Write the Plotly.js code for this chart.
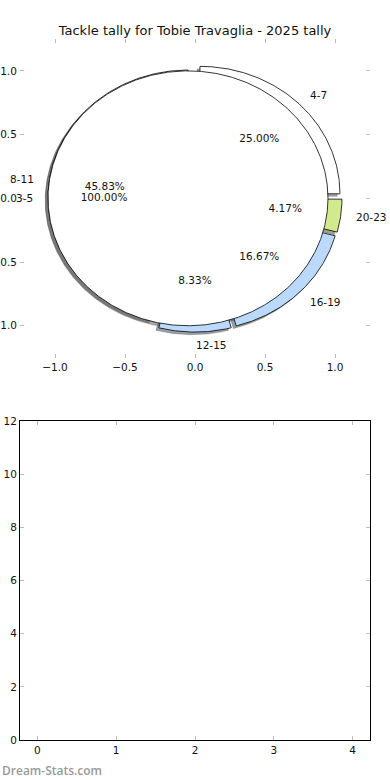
<!DOCTYPE html>
<html><head><meta charset="utf-8">
<script src="https://cdn.plot.ly/plotly-3.0.1.min.js"></script>
<style>html,body{margin:0;padding:0;background:#fff}#chart{width:390px;height:780px}</style>
</head><body><div id="chart"></div>
<script>
// ---- data ----
const sliceLabels = ['4-7', '8-11', '12-15', '16-19', '20-23'];
const sliceValues = [6, 11, 2, 4, 1];
const overlayLabels = ['3-5'];
const overlayValues = [1];
const pieTicks = [-1, -0.5, 0, 0.5, 1];
const bottomXTicks = [0, 1, 2, 3, 4];
const bottomYTicks = [0, 2, 4, 6, 8, 10, 12];
const titleText = 'Tackle tally for Tobie Travaglia - 2025 tally';
const watermark = 'Dream-Stats.com';

// ---- styles ----
const sliceColors = ['#ffffff', '#ffffff', '#bbd9fd', '#bbd9fd', '#d3e98f'];
const overlayColors = ['#ffffff'];
const EXPLODE = 0.05, SHADOW_DX = -0.02, SHADOW_DY = -0.02;
const LABEL_DIST = 1.1, PCT_DIST = 0.6, START_ANGLE = 0;
const FONT = 'DejaVu Sans, Liberation Sans, sans-serif';

function darken(hex) {
  const r = parseInt(hex.slice(1, 3), 16), g = parseInt(hex.slice(3, 5), 16), b = parseInt(hex.slice(5, 7), 16);
  return 'rgba(' + Math.round(r * 0.3) + ',' + Math.round(g * 0.3) + ',' + Math.round(b * 0.3) + ',0.5)';
}

function wedges(values, labels, colors) {
  const total = values.reduce((a, b) => a + b, 0);
  let cum = 0;
  return values.map((v, i) => {
    const frac = v / total;
    const t1 = START_ANGLE + cum * 360, t2 = START_ANGLE + (cum + frac) * 360;
    cum += frac;
    const mid = (t1 + t2) / 2 * Math.PI / 180;
    const cx = EXPLODE * Math.cos(mid), cy = EXPLODE * Math.sin(mid);
    const xs = [], ys = [];
    const full = frac >= 0.9999;
    if (!full) { xs.push(cx); ys.push(cy); }
    const n = Math.max(4, Math.ceil((t2 - t1) / 0.5));
    for (let k = 0; k <= n; k++) {
      const a = (t1 + (t2 - t1) * k / n) * Math.PI / 180;
      xs.push(cx + Math.cos(a)); ys.push(cy + Math.sin(a));
    }
    if (!full) { xs.push(cx); ys.push(cy); }
    return {
      xs, ys, color: colors[i], label: labels[i],
      pct: (frac * 100).toFixed(2) + '%',
      lx: cx + LABEL_DIST * Math.cos(mid), ly: cy + LABEL_DIST * Math.sin(mid),
      px: cx + PCT_DIST * Math.cos(mid), py: cy + PCT_DIST * Math.sin(mid)
    };
  });
}

const w1 = wedges(sliceValues, sliceLabels, sliceColors);
const w2 = wedges(overlayValues, overlayLabels, overlayColors);
const all = w1.concat(w2);

const traces = [];
// shadows (below all wedges)
all.forEach(w => traces.push({
  type: 'scatter', mode: 'lines', x: w.xs.map(v => v + SHADOW_DX), y: w.ys.map(v => v + SHADOW_DY),
  fill: 'toself', fillcolor: darken(w.color), line: {color: darken(w.color), width: 0.6},
  hoverinfo: 'skip', xaxis: 'x', yaxis: 'y'
}));
// wedges
all.forEach(w => traces.push({
  type: 'scatter', mode: 'lines', x: w.xs, y: w.ys,
  fill: 'toself', fillcolor: w.color, line: {color: '#000', width: 0.8},
  hoverinfo: 'skip', xaxis: 'x', yaxis: 'y'
}));
// percent labels
traces.push({
  type: 'scatter', mode: 'text', x: all.map(w => w.px), y: all.map(w => w.py),
  text: all.map(w => w.pct), textposition: 'middle center',
  textfont: {family: FONT, size: 10.5, color: '#111'}, hoverinfo: 'skip', xaxis: 'x', yaxis: 'y'
});
// empty bottom axes trace
traces.push({type: 'scatter', mode: 'markers', x: [], y: [], xaxis: 'x2', yaxis: 'y2', hoverinfo: 'skip'});

const annotations = all.map(w => ({
  x: w.lx, y: w.ly, xref: 'x', yref: 'y', text: w.label, showarrow: false,
  xanchor: w.lx > -1e-9 ? 'left' : 'right', yanchor: 'middle', borderpad: 0,
  font: {family: FONT, size: 10.5, color: '#111'}
}));
annotations.push({
  x: -20 / 350, y: -30 / 701, xref: 'paper', yref: 'paper', text: watermark,
  showarrow: false, xanchor: 'left', yanchor: 'middle',
  font: {family: 'Open Sans, sans-serif', size: 12, weight: 600, color: '#999999'}
});

const tickStyle = {ticks: 'inside', ticklen: 4, tickwidth: 1, tickcolor: '#bcbcbc', showgrid: false, zeroline: false,
  automargin: false, fixedrange: true, tickfont: {family: FONT, size: 10.5, color: '#111'}};

const layout = {
  width: 390, height: 780, margin: {l: 20, r: 20, t: 39, b: 40},
  paper_bgcolor: '#fff', plot_bgcolor: '#fff', showlegend: false,
  font: {family: FONT, size: 10.5, color: '#111'},
  title: {text: titleText, font: {family: FONT, size: 13, color: '#111'}, x: 0.5, xanchor: 'center',
    y: 1 - 30 / 780, yref: 'container', yanchor: 'middle'},
  xaxis: Object.assign({}, tickStyle, {domain: [0, 1], anchor: 'y', range: [-1.25, 1.25], tickvals: pieTicks,
    tickformat: '.1f', showline: true, linecolor: 'rgba(0,0,0,0)', mirror: 'ticks'}),
  yaxis: Object.assign({}, tickStyle, {domain: [0.5455, 1], anchor: 'x', range: [-1.25, 1.25], tickvals: pieTicks,
    tickformat: '.1f', showline: true, linecolor: 'rgba(0,0,0,0)', mirror: 'ticks'}),
  xaxis2: Object.assign({}, tickStyle, {domain: [0, 1], anchor: 'y2', range: [-0.22, 4.22], tickvals: bottomXTicks,
    showline: true, linecolor: '#000', linewidth: 1, mirror: 'ticks'}),
  yaxis2: Object.assign({}, tickStyle, {domain: [0, 0.455], anchor: 'x2', range: [0, 12], tickvals: bottomYTicks,
    showline: true, linecolor: '#000', linewidth: 1, mirror: 'ticks'}),
  annotations: annotations
};

Plotly.newPlot('chart', traces, layout, {displayModeBar: false, staticPlot: true});
</script>
</body></html>
